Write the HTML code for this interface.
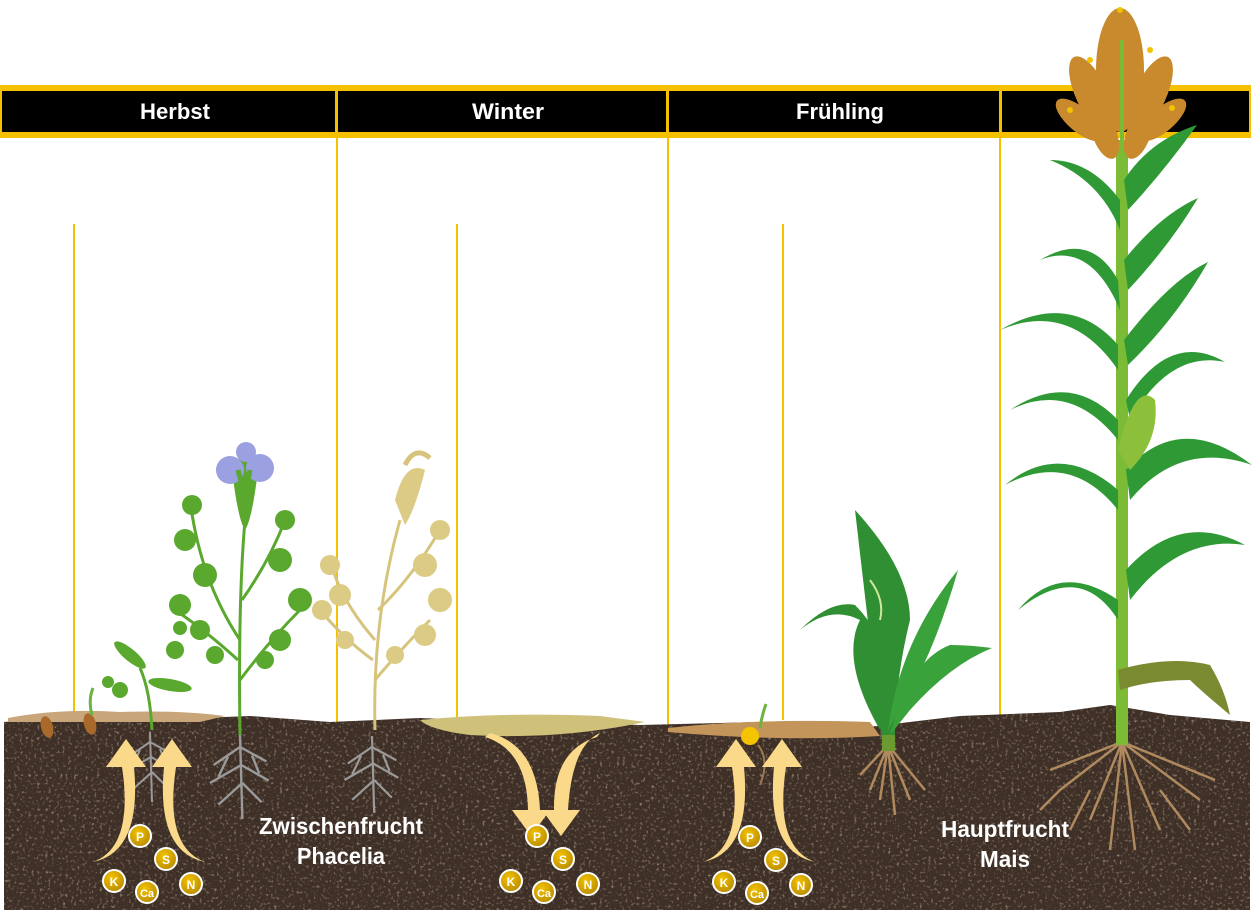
<!DOCTYPE html>
<html><head><meta charset="utf-8"><style>
html,body{margin:0;padding:0;background:#fff}
svg{display:block}
.lbl{font-family:"Liberation Sans Narrow","Liberation Sans",sans-serif;font-weight:bold;fill:#fff}
.nt{font-family:"Liberation Sans",sans-serif;font-weight:bold;fill:#fff;font-size:12px;text-anchor:middle}
</style></head><body>
<svg width="1256" height="911" viewBox="0 0 1256 911" xmlns="http://www.w3.org/2000/svg">
<defs>
<clipPath id="soilclip"><path d="M4,722 L60,718 L150,720 L250,716 L330,722 L420,718 L520,722 L640,725 L760,722 L860,728 L960,716 L1060,712 L1110,705 L1170,715 L1250,722 L1250,910 L4,910Z"/></clipPath>
<filter id="grain" x="0" y="0" width="100%" height="100%">
<feTurbulence type="fractalNoise" baseFrequency="0.35" numOctaves="3" seed="4"/>
<feColorMatrix values="0 0 0 0 0.52  0 0 0 0 0.42  0 0 0 0 0.33  0 0 0 2.2 -1.25"/>
</filter>
<radialGradient id="nut" cx="40%" cy="35%" r="70%"><stop offset="0" stop-color="#f2c200"/><stop offset="1" stop-color="#b88a00"/></radialGradient>
<g id="nuts">
<circle cx="0" cy="0" r="11" fill="url(#nut)" stroke="#fff" stroke-width="2"/><text class="nt" x="0" y="5" font-size="14">P</text>
<circle cx="26" cy="23" r="11" fill="url(#nut)" stroke="#fff" stroke-width="2"/><text class="nt" x="26" y="28">S</text>
<circle cx="-26" cy="45" r="11" fill="url(#nut)" stroke="#fff" stroke-width="2"/><text class="nt" x="-26" y="50">K</text>
<circle cx="7" cy="56" r="11" fill="url(#nut)" stroke="#fff" stroke-width="2"/><text class="nt" x="7" y="61" style="font-size:11px">Ca</text>
<circle cx="51" cy="48" r="11" fill="url(#nut)" stroke="#fff" stroke-width="2"/><text class="nt" x="51" y="53">N</text>
</g>
<g id="uparrows" fill="#fbd98a">
<path d="M-47,95 Q-6,80 -18,0 L-34,0 L-14,-28 L6,0 L-6,0 Q2,85 -47,95Z"/>
<path d="M65,95 Q24,80 36,0 L52,0 L32,-28 L12,0 L24,0 Q16,85 65,95Z"/>
</g>
<g id="roots" stroke="#9a9a9a" stroke-width="2" fill="none">
<path d="M0,0 L2,70 M0,10 L-22,25 M0,10 L22,22 M1,25 L-25,40 M1,25 L24,38 M2,40 L-18,58 M2,40 L18,56 M-10,18 L-18,35 M10,17 L16,32"/>
</g>
</defs>

<g stroke="#f5c000" stroke-width="2">
<line x1="337" y1="135" x2="337" y2="722"/><line x1="668" y1="135" x2="668" y2="728"/><line x1="1000" y1="135" x2="1000" y2="725"/>
<line x1="74" y1="224" x2="74" y2="715"/><line x1="457" y1="224" x2="457" y2="718"/><line x1="783" y1="224" x2="783" y2="720"/>
</g>

<rect x="0" y="85" width="1251" height="53" fill="#f5c000"/>
<rect x="2" y="91" width="1247" height="41" fill="#000"/>
<g fill="#f5c000"><rect x="335" y="91" width="3" height="41"/><rect x="666" y="91" width="3" height="41"/><rect x="999" y="91" width="3" height="41"/></g>
<g class="lbl" font-size="22" text-anchor="middle">
<text x="175" y="119" textLength="70" lengthAdjust="spacingAndGlyphs">Herbst</text><text x="508" y="119" textLength="72" lengthAdjust="spacingAndGlyphs">Winter</text><text x="840" y="119" textLength="88" lengthAdjust="spacingAndGlyphs">Frühling</text><text x="1122" y="119" textLength="60" lengthAdjust="spacingAndGlyphs" fill="#000">Sommer</text>
</g>

<path d="M4,722 L60,718 L150,720 L250,716 L330,722 L420,718 L520,722 L640,725 L760,722 L860,728 L960,716 L1060,712 L1110,705 L1170,715 L1250,722 L1250,910 L4,910Z" fill="#3f3027"/>
<g clip-path="url(#soilclip)"><rect x="0" y="700" width="1256" height="211" filter="url(#grain)"/></g>
<path d="M8,718 Q60,708 120,712 Q180,710 225,716 L200,722 L8,722Z" fill="#c9a67a"/>
<path d="M420,720 Q500,712 600,716 L645,722 Q560,740 470,735 Q430,730 420,720Z" fill="#cfc07a"/>
<path d="M668,728 Q760,718 870,722 L880,736 Q780,742 668,732Z" fill="#c4955a"/>
<ellipse cx="47" cy="727" rx="6" ry="11" fill="#a8692a" transform="rotate(-15 47 727)"/>
<ellipse cx="90" cy="724" rx="6" ry="11" fill="#a8692a" transform="rotate(-15 90 724)"/>
<path d="M92,715 Q88,700 93,688" stroke="#6cb33f" stroke-width="3" fill="none"/>

<use href="#roots" x="150" y="732"/>
<use href="#roots" x="240" y="735" transform="translate(240 735) scale(1.2) translate(-240 -735)"/>
<use href="#roots" x="372" y="736" transform="translate(372 736) scale(1.1) translate(-372 -736)"/>
<path d="M758,745 Q770,760 760,785" stroke="#9c7a50" stroke-width="2" fill="none"/>
<g stroke="#b08a5e" stroke-width="2.5" fill="none">
<path d="M888,745 L870,790 M888,745 L880,800 M888,745 L895,815 M888,745 L910,800 M888,745 L925,790 M888,745 L860,775"/>
<path d="M1122,742 L1060,790 L1040,810 M1122,742 L1090,820 M1122,742 L1110,850 M1122,742 L1135,850 M1122,742 L1160,830 M1122,742 L1200,800 M1122,742 L1215,780 M1122,742 L1050,770 M1090,790 L1070,830 M1160,790 L1190,830"/>
</g>

<use href="#uparrows" x="140" y="767"/>
<use href="#uparrows" x="750" y="767"/>
<g fill="#fbd98a">
<path d="M485,737 Q527,750 528,810 L512,810 L531,836 L550,810 L540,810 Q537,745 490,733Z"/>
<path d="M597,737 Q553,750 554,810 L542,810 L561,836 L580,810 L568,810 Q572,745 600,733Z"/>
</g>
<use href="#nuts" x="140" y="836"/>
<use href="#nuts" x="537" y="836"/>
<use href="#nuts" x="750" y="837"/>

<g class="lbl" font-size="23" text-anchor="middle">
<text x="341" y="834" textLength="164" lengthAdjust="spacingAndGlyphs">Zwischenfrucht</text><text x="341" y="864" textLength="88" lengthAdjust="spacingAndGlyphs">Phacelia</text>
<text x="1005" y="837" textLength="128" lengthAdjust="spacingAndGlyphs">Hauptfrucht</text><text x="1005" y="867" textLength="50" lengthAdjust="spacingAndGlyphs">Mais</text>
</g>

<path d="M152,730 Q150,690 140,668" stroke="#5aa82e" stroke-width="3" fill="none"/>
<ellipse cx="170" cy="685" rx="22" ry="6" fill="#5aa82e" transform="rotate(10 170 685)"/>
<ellipse cx="130" cy="655" rx="20" ry="6" fill="#5aa82e" transform="rotate(40 130 655)"/>
<g fill="#5aa82e"><circle cx="120" cy="690" r="8"/><circle cx="108" cy="682" r="6"/><circle cx="175" cy="650" r="9"/><circle cx="180" cy="628" r="7"/></g>

<g stroke="#5aa82e" stroke-width="3" fill="none">
<path d="M240,735 Q238,600 245,520"/><path d="M240,640 Q200,580 190,500"/><path d="M242,600 Q270,560 285,520"/><path d="M240,680 Q270,640 300,610"/><path d="M238,660 Q205,630 175,610"/>
</g>
<g fill="#5aa82e">
<circle cx="192" cy="505" r="10"/><circle cx="185" cy="540" r="11"/><circle cx="205" cy="575" r="12"/><circle cx="180" cy="605" r="11"/><circle cx="200" cy="630" r="10"/>
<circle cx="285" cy="520" r="10"/><circle cx="280" cy="560" r="12"/><circle cx="300" cy="600" r="12"/><circle cx="280" cy="640" r="11"/><circle cx="265" cy="660" r="9"/><circle cx="215" cy="655" r="9"/>
</g>
<path d="M232,470 Q245,440 258,470 Q252,520 245,530 Q238,520 232,470Z" fill="#5aa82e"/>
<g fill="#9aa0e0"><circle cx="230" cy="470" r="14"/><circle cx="260" cy="468" r="14"/><circle cx="246" cy="452" r="10"/></g>
<path d="M238,470 Q245,500 250,470" stroke="#5aa82e" stroke-width="5" fill="none"/>

<g stroke="#d6c47c" stroke-width="3" fill="none">
<path d="M375,730 Q372,620 400,520"/><path d="M375,640 Q340,600 330,560"/><path d="M378,610 Q410,580 440,530"/><path d="M375,680 Q400,650 430,620"/><path d="M373,660 Q345,640 320,610"/>
</g>
<g fill="#dccb84">
<circle cx="330" cy="565" r="10"/><circle cx="340" cy="595" r="11"/><circle cx="322" cy="610" r="10"/><circle cx="345" cy="640" r="9"/>
<circle cx="440" cy="530" r="10"/><circle cx="425" cy="565" r="12"/><circle cx="440" cy="600" r="12"/><circle cx="425" cy="635" r="11"/><circle cx="395" cy="655" r="9"/>
<path d="M395,500 Q405,460 425,470 Q415,510 405,525Z"/>
</g>
<path d="M405,465 Q415,445 430,458" stroke="#d6c47c" stroke-width="5" fill="none"/>

<path d="M760,728 Q762,715 766,704" stroke="#6cb33f" stroke-width="3" fill="none"/>
<circle cx="750" cy="736" r="9" fill="#f5c400"/>

<g>
<path d="M882,740 Q870,640 855,510 Q910,570 910,620 Q895,680 895,740Z" fill="#2f8f32"/>
<path d="M880,730 Q840,660 860,620 Q830,605 800,630 Q830,600 855,605 Q890,640 895,700Z" fill="#2f8f32"/>
<path d="M888,730 Q900,640 958,570 Q935,650 905,700Z" fill="#3aa23a"/>
<path d="M890,735 Q910,660 950,645 Q970,645 992,648 Q950,665 910,710Z" fill="#3aa23a"/>
<path d="M870,580 Q885,600 880,620" stroke="#cfe79a" stroke-width="2" fill="none"/>
<rect x="882" y="735" width="13" height="16" fill="#6a9a30"/>
</g>

<g>
<rect x="1116" y="140" width="12" height="605" fill="#7cbb35"/>
<g fill="#2f9a35">
<path d="M1124,180 Q1150,140 1197,125 Q1165,170 1128,210Z"/>
<path d="M1120,230 Q1100,180 1050,160 Q1090,160 1120,200Z"/>
<path d="M1124,260 Q1160,215 1198,198 Q1170,245 1128,290Z"/>
<path d="M1120,310 Q1090,240 1040,260 Q1090,230 1118,280Z"/>
<path d="M1124,340 Q1170,280 1208,262 Q1175,320 1128,365Z"/>
<path d="M1118,370 Q1070,300 1000,330 Q1070,290 1118,345Z"/>
<path d="M1126,400 Q1170,330 1225,362 Q1170,350 1130,420Z"/>
<path d="M1118,440 Q1070,380 1010,410 Q1070,370 1118,420Z"/>
<path d="M1126,470 Q1180,410 1252,465 Q1180,440 1130,500Z"/>
<path d="M1118,510 Q1070,450 1005,485 Q1060,440 1118,490Z"/>
<path d="M1126,570 Q1180,510 1245,545 Q1180,535 1130,600Z"/>
<path d="M1118,620 Q1080,560 1018,610 Q1060,560 1118,600Z"/>
</g>
<path d="M1118,670 Q1170,655 1210,665 Q1225,690 1230,715 Q1200,690 1190,680 Q1150,680 1120,690Z" fill="#7a8a30"/>
<path d="M1118,450 Q1135,380 1155,400 Q1160,440 1130,470Z" fill="#8cbf3a"/>
<g fill="#c88a2c">
<ellipse cx="1120" cy="70" rx="24" ry="62"/>
<ellipse cx="1092" cy="95" rx="16" ry="42" transform="rotate(-25 1092 95)"/>
<ellipse cx="1150" cy="95" rx="16" ry="42" transform="rotate(25 1150 95)"/>
<ellipse cx="1080" cy="120" rx="12" ry="30" transform="rotate(-50 1080 120)"/>
<ellipse cx="1162" cy="120" rx="12" ry="30" transform="rotate(50 1162 120)"/>
<ellipse cx="1105" cy="135" rx="12" ry="25" transform="rotate(-20 1105 135)"/>
<ellipse cx="1138" cy="135" rx="12" ry="25" transform="rotate(20 1138 135)"/>
</g>
<g fill="#f2c200"><circle cx="1090" cy="60" r="3"/><circle cx="1150" cy="50" r="3"/><circle cx="1070" cy="110" r="3"/><circle cx="1172" cy="108" r="3"/><circle cx="1120" cy="10" r="3"/></g>
<path d="M1122,150 L1122,40" stroke="#7cbb35" stroke-width="4"/>
</g>
</svg>
</body></html>
